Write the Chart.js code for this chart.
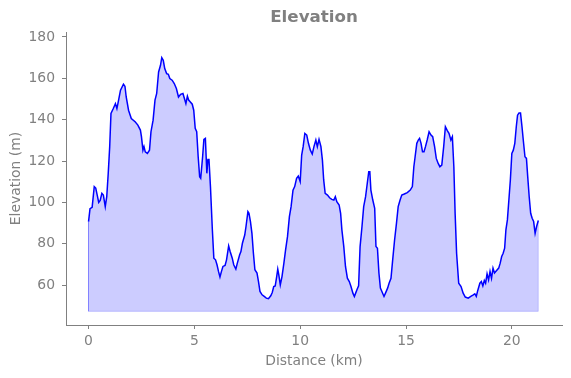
<!DOCTYPE html>
<html>
<head>
<meta charset="utf-8">
<title>Elevation</title>
<script src="https://cdn.jsdelivr.net/npm/chart.js@4.4.1/dist/chart.umd.min.js"></script>
<style>
    body { margin: 0; background: #ffffff; }
    #wrap { width: 571px; height: 378px; position: relative; }
</style>
</head>
<body>
<div id="wrap"><canvas id="elevChart"></canvas></div>
<script>
// ===== DATA =====
const chartTitle = "Elevation";
const xLabel = "Distance (km)";
const yLabel = "Elevation (m)";
const xTicks = [0, 5, 10, 15, 20];
const yTicks = [60, 80, 100, 120, 140, 160, 180];
const fillBase = 47.4;

const distKm = [
    0.00, 0.07, 0.17, 0.27, 0.34, 0.41, 0.48, 0.55, 0.63, 0.70, 0.79, 0.86, 0.93, 1.00,
    1.06, 1.17, 1.27, 1.34, 1.42, 1.51, 1.65, 1.72, 1.78, 1.89, 2.02, 2.20, 2.33, 2.45,
    2.50, 2.57, 2.62, 2.68, 2.78, 2.88, 2.95, 3.05, 3.14, 3.22, 3.31, 3.40, 3.46, 3.53,
    3.60, 3.69, 3.77, 3.84, 3.95, 4.05, 4.15, 4.25, 4.35, 4.46, 4.53, 4.60, 4.67, 4.73,
    4.80, 4.90, 4.97, 5.04, 5.11, 5.18, 5.25, 5.30, 5.39, 5.45, 5.52, 5.59, 5.64, 5.69,
    5.76, 5.85, 5.92, 6.00, 6.07, 6.14, 6.21, 6.28, 6.35, 6.45, 6.52, 6.62, 6.69, 6.79,
    6.86, 6.96, 7.03, 7.14, 7.20, 7.27, 7.38, 7.44, 7.53, 7.58, 7.65, 7.72, 7.79, 7.86,
    7.96, 8.03, 8.10, 8.20, 8.30, 8.40, 8.50, 8.61, 8.68, 8.75, 8.82, 8.89, 8.94, 8.99,
    9.06, 9.14, 9.23, 9.31, 9.40, 9.49, 9.57, 9.66, 9.74, 9.83, 9.91, 10.00, 10.07, 10.14,
    10.22, 10.31, 10.39, 10.48, 10.57, 10.65, 10.74, 10.81, 10.89, 10.98, 11.05, 11.11, 11.18, 11.29,
    11.39, 11.49, 11.59, 11.66, 11.73, 11.84, 11.91, 11.97, 12.06, 12.14, 12.23, 12.32, 12.40, 12.49,
    12.56, 12.62, 12.69, 12.76, 12.83, 12.92, 13.00, 13.09, 13.17, 13.24, 13.29, 13.34, 13.43, 13.52,
    13.58, 13.65, 13.72, 13.79, 13.86, 13.96, 14.03, 14.13, 14.20, 14.29, 14.37, 14.46, 14.55, 14.63,
    14.72, 14.80, 14.92, 15.06, 15.20, 15.30, 15.37, 15.43, 15.51, 15.58, 15.64, 15.71, 15.78, 15.85,
    15.92, 16.00, 16.09, 16.18, 16.26, 16.35, 16.43, 16.52, 16.60, 16.69, 16.78, 16.86, 16.95, 17.03,
    17.12, 17.19, 17.26, 17.32, 17.39, 17.49, 17.60, 17.70, 17.80, 17.94, 18.06, 18.18, 18.25, 18.32,
    18.39, 18.49, 18.56, 18.63, 18.70, 18.76, 18.83, 18.90, 18.97, 19.04, 19.11, 19.18, 19.28, 19.38,
    19.45, 19.52, 19.59, 19.66, 19.72, 19.79, 19.86, 19.93, 20.00, 20.07, 20.14, 20.21, 20.27, 20.34,
    20.41, 20.48, 20.54, 20.62, 20.69, 20.75, 20.82, 20.89, 20.96, 21.03, 21.10, 21.17, 21.25
];

const elevM = [
    90.8, 97.0, 97.7, 107.7, 107.0, 103.6, 100.0, 101.0, 104.4, 103.6, 98.0, 102.8, 114.0, 127.0,
    143.0, 145.4, 147.8, 145.4, 149.5, 154.3, 157.2, 156.2, 151.0, 144.6, 140.6, 139.0, 137.4, 135.0,
    131.8, 125.3, 127.0, 124.5, 123.7, 125.3, 134.2, 139.8, 149.5, 152.7, 163.1, 166.3, 170.0, 168.7,
    164.7, 162.3, 162.0, 159.9, 159.1, 157.5, 155.1, 151.0, 152.3, 152.7, 150.3, 147.8, 151.4, 149.5,
    148.7, 147.5, 144.6, 135.8, 134.2, 122.1, 112.5, 111.7, 122.1, 130.5, 131.0, 114.1, 120.8, 120.8,
    107.7, 86.8, 73.1, 72.3, 69.9, 66.7, 64.0, 66.7, 69.1, 69.6, 72.3, 79.0, 76.3, 73.1,
    69.9, 67.8, 70.7, 74.7, 76.3, 80.3, 84.3, 88.4, 95.6, 94.8, 90.8, 85.1, 75.5, 67.5,
    65.9, 61.8, 57.0, 55.4, 54.6, 53.8, 53.5, 54.9, 56.5, 59.4, 59.7, 64.2, 67.8, 65.0,
    60.2, 64.2, 70.7, 77.1, 83.5, 93.2, 98.0, 106.0, 107.7, 111.7, 112.8, 110.1, 122.9, 127.0,
    133.4, 132.6, 128.6, 125.3, 123.4, 127.0, 130.2, 127.0, 130.5, 127.0, 120.5, 110.9, 104.4, 103.6,
    102.3, 101.5, 101.2, 102.8, 100.4, 98.8, 94.8, 86.8, 78.7, 69.1, 63.4, 61.8, 59.4, 56.2,
    54.6, 56.2, 58.1, 59.7, 78.7, 88.4, 98.0, 102.8, 109.3, 114.9, 114.9, 106.0, 101.2, 97.2,
    78.7, 77.9, 65.9, 58.6, 57.0, 54.6, 56.2, 58.6, 61.0, 63.4, 72.3, 81.9, 90.0, 98.0,
    101.2, 103.6, 104.1, 104.8, 106.0, 107.7, 117.3, 122.1, 128.6, 130.2, 131.0, 128.6, 124.5, 124.5,
    127.0, 130.2, 134.2, 132.6, 131.8, 127.0, 121.3, 118.9, 117.3, 118.1, 127.0, 136.6, 134.7, 133.4,
    130.2, 131.8, 117.3, 94.8, 75.5, 61.0, 59.4, 56.2, 54.3, 53.8, 54.6, 55.4, 55.9, 54.6,
    57.5, 61.0, 61.8, 59.7, 62.3, 61.0, 65.5, 62.6, 66.7, 63.4, 68.3, 65.9, 67.1, 68.3,
    70.7, 73.9, 75.5, 77.9, 86.8, 91.6, 101.2, 110.9, 123.7, 125.3, 128.6, 136.6, 142.2, 143.3,
    143.3, 136.6, 130.2, 122.1, 121.3, 112.5, 102.8, 94.8, 92.4, 90.8, 85.1, 88.4, 91.3
];

// ===== STYLE =====
const gray = "#808080";
const fontFamily = "'DejaVu Sans', sans-serif";
const textSize = 13.9;

// ===== TITLE PLUGIN (centred over the plot area) =====
const plotTitle = {
    id: "plotTitle",
    afterDraw(chart) {
        const { ctx, chartArea } = chart;
        ctx.save();
        ctx.font = "bold 16.7px " + fontFamily;
        ctx.fillStyle = gray;
        ctx.textAlign = "center";
        ctx.textBaseline = "middle";
        ctx.fillText(chartTitle, (chartArea.left + chartArea.right) / 2, 18);
        ctx.restore();
    }
};

// ===== BUILD CHART =====
function initChart() {
    const ctx = document.getElementById("elevChart");
    const points = distKm.map((d, i) => ({ x: d, y: elevM[i] }));
    const last = distKm.length - 1;
    const outline = [
        { x: distKm[0], y: elevM[0] },
        { x: distKm[0], y: fillBase },
        { x: distKm[last], y: fillBase },
        { x: distKm[last], y: elevM[last] }
    ];

    new Chart(ctx, {
        type: "line",
        data: {
            datasets: [
                {
                    data: points,
                    borderColor: "#0000ff",
                    borderWidth: 1.5,
                    backgroundColor: "rgba(0,0,255,0.2)",
                    fill: { value: fillBase },
                    pointRadius: 0,
                    tension: 0
                },
                {
                    data: outline,
                    borderColor: "rgba(0,0,255,0.2)",
                    borderWidth: 1,
                    fill: false,
                    pointRadius: 0,
                    tension: 0
                }
            ]
        },
        options: {
            responsive: true,
            maintainAspectRatio: false,
            animation: false,
            layout: { padding: { top: 32, right: 9, left: 0, bottom: 0 } },
            plugins: {
                legend: { display: false },
                tooltip: { enabled: false },
                title: { display: false }
            },
            scales: {
                x: {
                    type: "linear",
                    min: -1.065,
                    max: 22.37,
                    afterBuildTicks: axis => { axis.ticks = xTicks.map(v => ({ value: v })); },
                    afterFit: axis => { axis.height = 53; },
                    grid: {
                        display: true,
                        drawOnChartArea: false,
                        drawTicks: true,
                        tickLength: 4,
                        tickColor: gray
                    },
                    border: { display: true, color: gray, width: 1 },
                    ticks: {
                        color: gray,
                        padding: 4,
                        maxRotation: 0,
                        font: { family: fontFamily, size: textSize }
                    },
                    title: {
                        display: true,
                        text: xLabel,
                        color: gray,
                        padding: { top: 0, bottom: 8.5 },
                        font: { family: fontFamily, size: textSize }
                    }
                },
                y: {
                    type: "linear",
                    min: 40.8,
                    max: 182.4,
                    afterBuildTicks: axis => { axis.ticks = yTicks.map(v => ({ value: v })); },
                    afterFit: axis => { axis.width = 66; },
                    grid: {
                        display: true,
                        drawOnChartArea: false,
                        drawTicks: true,
                        tickLength: 4,
                        tickColor: gray
                    },
                    border: { display: true, color: gray, width: 1 },
                    ticks: {
                        color: gray,
                        padding: 7,
                        font: { family: fontFamily, size: textSize }
                    },
                    title: {
                        display: true,
                        text: yLabel,
                        color: gray,
                        padding: { top: 7.7, bottom: 0 },
                        font: { family: fontFamily, size: textSize }
                    }
                }
            }
        },
        plugins: [plotTitle]
    });
}

// ===== INIT AFTER LOAD =====
document.addEventListener("DOMContentLoaded", initChart);
</script>
</body>
</html>
